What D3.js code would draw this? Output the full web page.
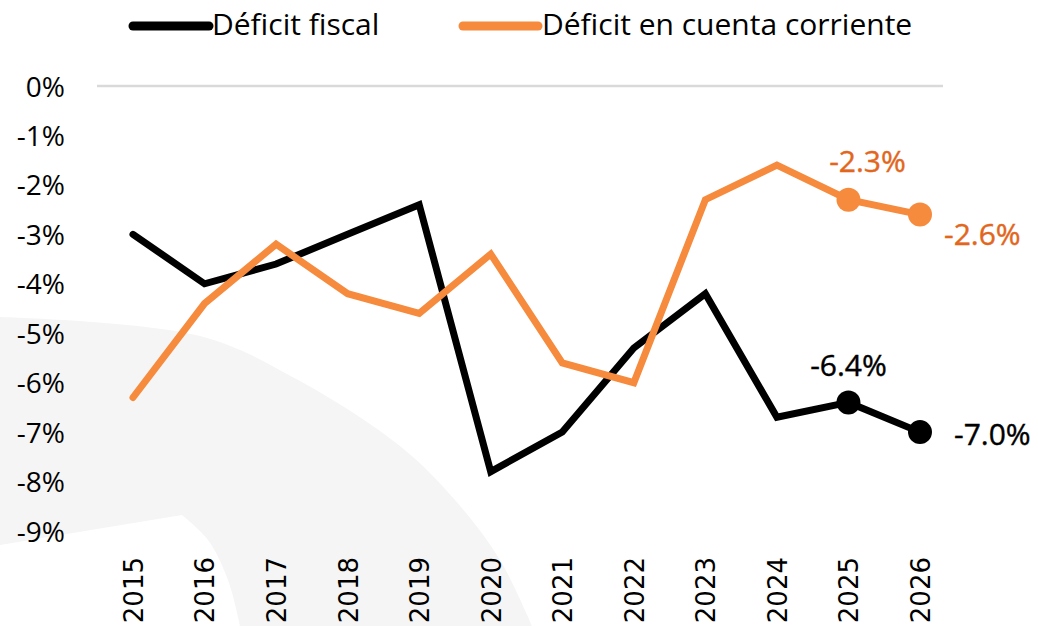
<!DOCTYPE html>
<html>
<head>
<meta charset="utf-8">
<script src="https://cdn.jsdelivr.net/npm/d3@7"></script>
<style>
  html, body { margin: 0; padding: 0; background: #ffffff; }
  svg { display: block; }
</style>
</head>
<body>
<svg id="chart" width="1038" height="626"></svg>
<script>
// Series data (% of GDP)
const years = ["2015", "2016", "2017", "2018", "2019", "2020", "2021", "2022", "2023", "2024", "2025", "2026"];
const fiscalDeficit = [-3.0, -4.0, -3.6, -3.0, -2.4, -7.8, -7.0, -5.3, -4.2, -6.7, -6.4, -7.0];
const currentAccountDeficit = [-6.3, -4.4, -3.2, -4.2, -4.6, -3.4, -5.6, -6.0, -2.3, -1.6, -2.3, -2.6];
const yTicks = [0, -1, -2, -3, -4, -5, -6, -7, -8, -9];
const seriesNames = ["Déficit fiscal", "Déficit en cuenta corriente"];
const markedYears = ["2025", "2026"];

const W = 1038, H = 626;
const svg = d3.select("#chart");

const lineColor = { fiscal: "#000000", current: "#f68a3d" };
const labelColor = { fiscal: "#000000", current: "#e2661c" };
const textFont = "'Open Sans', 'Noto Sans', sans-serif";

// Scales
const x = d3.scalePoint().domain(years).range([133, 920]);
const y = d3.scaleLinear().domain([-9, 0]).range([531, 86]);

// Faint background emblem
const outer = [[0, 317], [200, 336], [300, 381], [400, 446], [455, 500], [500, 560], [532, 626]];
const inner = [[240, 626], [228, 580], [208, 540], [182, 515]];
const edge = d3.line().curve(d3.curveCatmullRom.alpha(0.5));
const emblemPath = edge(outer) + "L" + edge(inner).slice(1) + "L0,545Z";
svg.append("path")
  .attr("d", emblemPath)
  .attr("fill", "#f5f5f5");

// Zero gridline
svg.append("line")
  .attr("x1", 97).attr("x2", 943)
  .attr("y1", y(0)).attr("y2", y(0))
  .attr("stroke", "#d9d9d9")
  .attr("stroke-width", 2.5);

// Y axis labels
const yAxis = d3.axisLeft(y)
  .tickValues(yTicks)
  .tickFormat(d => d + "%")
  .tickSize(0)
  .tickPadding(0);
const yg = svg.append("g").attr("transform", "translate(65,0)").call(yAxis);
yg.select(".domain").remove();
yg.selectAll("text")
  .attr("font-family", textFont)
  .attr("font-size", 28)
  .attr("fill", "#000")
  .attr("dy", "0.36em");

// X axis labels (rotated years)
const xAxis = d3.axisBottom(x).tickSize(0).tickPadding(0);
const xg = svg.append("g").attr("transform", "translate(0,557)").call(xAxis);
xg.select(".domain").remove();
xg.selectAll("text")
  .attr("font-family", "'DejaVu Sans', sans-serif")
  .attr("font-size", 26)
  .attr("fill", "#000")
  .attr("text-anchor", "end")
  .attr("transform", "rotate(-90)")
  .attr("x", 0)
  .attr("y", 0)
  .attr("dy", "0.36em");

// Lines
const line = d3.line()
  .x((d, i) => x(years[i]))
  .y(d => y(d));

const series = [
  { key: "fiscal", values: fiscalDeficit },
  { key: "current", values: currentAccountDeficit }
];

series.forEach(s => {
  svg.append("path")
    .datum(s.values)
    .attr("d", line)
    .attr("fill", "none")
    .attr("stroke", lineColor[s.key])
    .attr("stroke-width", 7)
    .attr("stroke-linecap", "round")
    .attr("stroke-linejoin", "miter");
});

// End markers
series.forEach(s => {
  markedYears.forEach(yr => {
    const i = years.indexOf(yr);
    svg.append("circle")
      .attr("cx", x(yr))
      .attr("cy", y(s.values[i]))
      .attr("r", 12)
      .attr("fill", lineColor[s.key]);
  });
});

// Value labels for the marked years
const labelPlacement = {
  fiscal: { "2025": { dx: 0, dy: -26, anchor: "middle" }, "2026": { dx: 34, dy: 13, anchor: "start" } },
  current: { "2025": { dx: 19, dy: -28, anchor: "middle" }, "2026": { dx: 24, dy: 30, anchor: "start" } }
};
series.forEach(s => {
  markedYears.forEach(yr => {
    const i = years.indexOf(yr);
    const v = s.values[i];
    const p = labelPlacement[s.key][yr];
    svg.append("text")
      .attr("x", x(yr) + p.dx)
      .attr("y", y(v) + p.dy)
      .attr("text-anchor", p.anchor)
      .attr("font-family", textFont)
      .attr("font-size", 30)
      .attr("fill", labelColor[s.key])
      .attr("stroke", labelColor[s.key])
      .attr("stroke-width", 0.4)
      .text(v.toFixed(1) + "%");
  });
});

// Legend
const legendItems = [
  { key: "fiscal", name: seriesNames[0], x1: 133, x2: 209, tx: 212 },
  { key: "current", name: seriesNames[1], x1: 463, x2: 538, tx: 542 }
];
const lg = svg.append("g");
legendItems.forEach(item => {
  lg.append("line")
    .attr("x1", item.x1).attr("x2", item.x2)
    .attr("y1", 26).attr("y2", 26)
    .attr("stroke", lineColor[item.key])
    .attr("stroke-width", 9)
    .attr("stroke-linecap", "round");
  lg.append("text")
    .attr("x", item.tx)
    .attr("y", 35)
    .attr("font-family", textFont)
    .attr("font-size", 30)
    .attr("fill", "#000")
    .text(item.name);
});
</script>
</body>
</html>
